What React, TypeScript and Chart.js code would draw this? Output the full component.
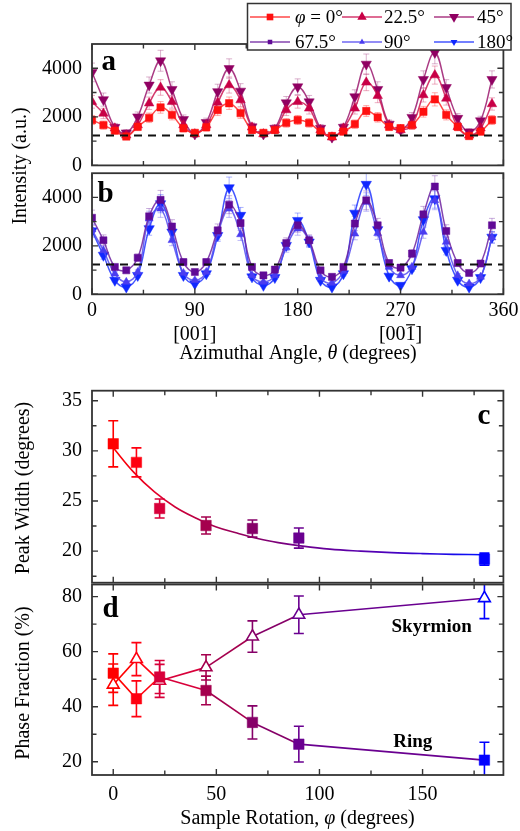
import React, { useEffect, useRef } from 'react';
import { Chart, registerables } from 'chart.js';

Chart.register(...registerables);

const SERIF = '"Liberation Serif", "Times New Roman", Times, serif';
const FRAME_COLOR = '#333333';

// ── Panels a, b: azimuthal intensity profiles for several sample rotations φ ──
const THETA = [0, 10, 20, 30, 40, 50, 60, 70, 80, 90, 100, 110, 120, 130, 140, 150, 160, 170,
  180, 190, 200, 210, 220, 230, 240, 250, 260, 270, 280, 290, 300, 310, 320, 330, 340, 350];

const INTENSITY_PHI_0 = [1870, 1660, 1430, 1190, 1590, 1960, 2390, 2080, 1530, 1340, 1570, 2280,
  2560, 2150, 1460, 1340, 1460, 1750, 1870, 1750, 1390, 1210, 1390, 1700, 2240, 1980, 1590, 1530,
  1660, 2210, 2720, 2080, 1590, 1210, 1390, 1870];
const INTENSITY_PHI_22_5 = [2620, 2140, 1530, 1240, 1660, 2560, 3210, 2620, 1660, 1290, 1660, 2590,
  3310, 2690, 1570, 1290, 1460, 2280, 2620, 2350, 1460, 1160, 1530, 2350, 3420, 2870, 1660, 1460,
  1660, 2900, 3720, 2760, 1590, 1240, 1530, 2530];
const INTENSITY_PHI_45 = [3830, 2710, 1570, 1340, 2000, 3310, 4310, 3130, 1890, 1290, 1770, 3040,
  3990, 3060, 1590, 1290, 1530, 2580, 3240, 2620, 1530, 1160, 1570, 2830, 4170, 3130, 1700, 1460,
  1980, 3540, 4650, 3210, 1940, 1380, 1840, 3540];
const INTENSITY_PHI_67_5 = [3160, 2230, 1130, 990, 1510, 3220, 3900, 2800, 1330, 920, 1330, 2640,
  3700, 2940, 1130, 780, 1020, 2120, 2850, 2230, 990, 720, 1130, 2920, 3880, 2850, 1290, 1100,
  1680, 3300, 4450, 2610, 1290, 880, 1270, 2850];
const INTENSITY_PHI_90 = [2670, 1810, 850, 510, 920, 3120, 3530, 2230, 880, 580, 920, 2500,
  3530, 2470, 780, 510, 780, 1930, 2710, 2200, 690, 470, 960, 2500, 3810, 2520, 1130, 780,
  1130, 2570, 3880, 2160, 780, 440, 720, 2340];
const INTENSITY_PHI_180 = [2620, 1610, 580, 300, 780, 2710, 3740, 2570, 780, 440, 850, 2430,
  4400, 3260, 720, 370, 690, 2020, 3050, 2160, 580, 300, 850, 3350, 4540, 2670, 750, 370,
  1060, 3080, 3950, 1810, 580, 300, 690, 2360];

// relative uncertainty of each intensity point
const INTENSITY_REL_ERROR = 0.1;
// dashed reference level drawn across panels a and b
const REFERENCE_LEVEL = 1230;

const THETA_TICKS = [0, 90, 180, 270, 360];
const THETA_MINOR = [45, 135, 225, 315];
const INTENSITY_TICKS = [0, 2000, 4000];
const INTENSITY_MINOR = [1000, 3000];
const DIRECTION_TICKS = [90, 270];
const DIRECTION_LABELS = ['[001]', '[001]'];
const DIRECTION_OVERLINED = [false, true];

// ── Panels c, d: peak width and phase fractions versus sample rotation ──
const PHI = [0, 11.25, 22.5, 45, 67.5, 90, 180];
const PEAK_WIDTH = [30.7, 28.85, 24.25, 22.55, 22.25, 21.3, 19.2];
const PEAK_WIDTH_ERR = [2.3, 1.45, 0.95, 0.85, 0.85, 1.0, 0.6];
const FIT_PHI = [0, 10, 20, 30, 40, 50, 60, 70, 80, 90, 105, 120, 135, 150, 165, 180];
const FIT_WIDTH = [30.3, 27.85, 25.9, 24.4, 23.3, 22.4, 21.8, 21.25, 20.85, 20.55, 20.2, 20.0,
  19.85, 19.75, 19.68, 19.64];
const RING_FRACTION = [52.2, 42.9, 50.8, 45.9, 34.3, 26.4, 20.6];
const RING_FRACTION_ERR = [7, 6.5, 6, 5.2, 6, 6.5, 6.5];
const SKYRMION_FRACTION = [48.0, 57.3, 49.4, 54.3, 65.5, 73.4, 79.4];
const SKYRMION_FRACTION_ERR = [7.5, 6, 6, 4.6, 5.7, 6.8, 7.4];

const PHI_TICKS = [0, 50, 100, 150];
const PHI_MINOR = [25, 75, 125, 175];
const WIDTH_TICKS = [20, 25, 30, 35];
const WIDTH_MINOR = [17.5, 22.5, 27.5, 32.5];
const FRACTION_TICKS = [20, 40, 60, 80];
const FRACTION_MINOR = [30, 50, 70];

// marker colour for each rotation in PHI (red → purple → blue)
const PHI_COLORS = ['#ff0000', '#ff0010', '#d8003a', '#a5004e', '#860068', '#6a0090', '#0000ff'];

type Part = { t: string; italic?: boolean };
type TextItem = {
  parts: Part[]; x: number; y: number; size: number; bold?: boolean;
  align?: 'left' | 'center' | 'right'; baseline?: CanvasTextBaseline; rotate?: number;
};

type Series = {
  label: Part[]; values: number[]; color: string; line: string; err: string;
  style: 'rect' | 'triangle'; rot: number; r: number; legendR: number;
};

const PANEL_A_SERIES: Series[] = [
  { label: [{ t: 'φ', italic: true }, { t: ' = 0°' }], values: INTENSITY_PHI_0, color: '#ff1010',
    line: 'rgba(255,40,40,0.85)', err: 'rgba(255,70,70,0.45)', style: 'rect', rot: 0, r: 5.2, legendR: 4.7 },
  { label: [{ t: '22.5°' }], values: INTENSITY_PHI_22_5, color: '#c80046',
    line: 'rgba(205,25,85,0.85)', err: 'rgba(210,50,100,0.4)', style: 'triangle', rot: 0, r: 5.5, legendR: 5.4 },
  { label: [{ t: '45°' }], values: INTENSITY_PHI_45, color: '#900062',
    line: 'rgba(155,25,110,0.85)', err: 'rgba(165,60,130,0.4)', style: 'triangle', rot: 180, r: 5.9, legendR: 5.8 },
];
const PANEL_B_SERIES: Series[] = [
  { label: [{ t: '67.5°' }], values: INTENSITY_PHI_67_5, color: '#600a96',
    line: 'rgba(110,35,160,0.85)', err: 'rgba(120,55,170,0.4)', style: 'rect', rot: 0, r: 5, legendR: 3.2 },
  { label: [{ t: '90°' }], values: INTENSITY_PHI_90, color: '#4a3cf0',
    line: 'rgba(85,75,240,0.85)', err: 'rgba(95,85,240,0.4)', style: 'triangle', rot: 0, r: 4.6, legendR: 3.4 },
  { label: [{ t: '180°' }], values: INTENSITY_PHI_180, color: '#1028ff',
    line: 'rgba(35,55,255,0.85)', err: 'rgba(45,65,255,0.4)', style: 'triangle', rot: 180, r: 6, legendR: 4 },
];

function fontOf(size: number, bold?: boolean, italic?: boolean) {
  return `${italic ? 'italic ' : ''}${bold ? 'bold ' : ''}${size}px ${SERIF}`;
}

function drawParts(ctx: CanvasRenderingContext2D, item: TextItem, dy: number) {
  ctx.save();
  ctx.translate(item.x, item.y - dy);
  if (item.rotate) ctx.rotate(item.rotate);
  ctx.fillStyle = '#000';
  ctx.textAlign = 'left';
  ctx.textBaseline = item.baseline ?? 'middle';
  const widths = item.parts.map((p) => {
    ctx.font = fontOf(item.size, item.bold, p.italic);
    return ctx.measureText(p.t).width;
  });
  const total = widths.reduce((a, b) => a + b, 0);
  let x = item.align === 'center' ? -total / 2 : item.align === 'right' ? -total : 0;
  item.parts.forEach((p, i) => {
    ctx.font = fontOf(item.size, item.bold, p.italic);
    ctx.fillText(p.t, x, 0);
    x += widths[i];
  });
  ctx.restore();
}

function drawMarker(ctx: CanvasRenderingContext2D, style: string, rot: number, x: number, y: number, r: number, fill: string) {
  ctx.beginPath();
  if (style === 'rect') {
    const h = r * Math.SQRT1_2;
    ctx.rect(x - h, y - h, 2 * h, 2 * h);
  } else {
    let a = (rot * Math.PI) / 180;
    ctx.moveTo(x + Math.sin(a) * r, y - Math.cos(a) * r);
    a += (2 * Math.PI) / 3;
    ctx.lineTo(x + Math.sin(a) * r, y - Math.cos(a) * r);
    a += (2 * Math.PI) / 3;
    ctx.lineTo(x + Math.sin(a) * r, y - Math.cos(a) * r);
    ctx.closePath();
  }
  ctx.fillStyle = fill;
  ctx.fill();
}

// Boxed frame with inward ticks on all four sides
function framePlugin(xMajor: number[], xMinor: number[], yMajor: number[], yMinor: number[]) {
  return {
    id: 'frame',
    afterDatasetsDraw(chart: any) {
      const { ctx, chartArea: a } = chart;
      const xs = chart.scales.x;
      const ys = chart.scales.y;
      ctx.save();
      ctx.strokeStyle = FRAME_COLOR;
      ctx.lineWidth = 1.4;
      ctx.beginPath();
      const xt = (v: number, len: number) => {
        const p = xs.getPixelForValue(v);
        ctx.moveTo(p, a.bottom); ctx.lineTo(p, a.bottom - len);
        ctx.moveTo(p, a.top); ctx.lineTo(p, a.top + len);
      };
      const yt = (v: number, len: number) => {
        const p = ys.getPixelForValue(v);
        ctx.moveTo(a.left, p); ctx.lineTo(a.left + len, p);
        ctx.moveTo(a.right, p); ctx.lineTo(a.right - len, p);
      };
      xMajor.forEach((v) => xt(v, 6));
      xMinor.forEach((v) => xt(v, 4.5));
      yMajor.forEach((v) => yt(v, 6));
      yMinor.forEach((v) => yt(v, 4.5));
      ctx.stroke();
      ctx.lineWidth = 1.8;
      ctx.strokeRect(a.left, a.top, a.right - a.left, a.bottom - a.top);
      ctx.restore();
    },
  };
}

type ErrSet = { xs: number[]; ys: number[]; errs: number[]; colors: string | string[]; width: number; cap: number };

function errorBarPlugin(sets: ErrSet[]) {
  return {
    id: 'errorBars',
    beforeDatasetsDraw(chart: any) {
      const { ctx, chartArea: a } = chart;
      const xs = chart.scales.x;
      const ys = chart.scales.y;
      ctx.save();
      ctx.beginPath();
      ctx.rect(a.left, a.top, a.right - a.left, a.bottom - a.top);
      ctx.clip();
      sets.forEach((s) => {
        ctx.lineWidth = s.width;
        s.xs.forEach((xv, i) => {
          const px = xs.getPixelForValue(xv);
          const hi = ys.getPixelForValue(s.ys[i] + s.errs[i]);
          const lo = ys.getPixelForValue(s.ys[i] - s.errs[i]);
          ctx.strokeStyle = Array.isArray(s.colors) ? s.colors[i] : s.colors;
          ctx.beginPath();
          ctx.moveTo(px, hi); ctx.lineTo(px, lo);
          ctx.moveTo(px - s.cap, hi); ctx.lineTo(px + s.cap, hi);
          ctx.moveTo(px - s.cap, lo); ctx.lineTo(px + s.cap, lo);
          ctx.stroke();
        });
      });
      ctx.restore();
    },
  };
}

function textPlugin(items: TextItem[], canvasTop: number) {
  return {
    id: 'texts',
    afterDraw(chart: any) {
      items.forEach((it) => drawParts(chart.ctx, it, canvasTop));
    },
  };
}

function legendPlugin(series: Series[]) {
  return {
    id: 'seriesLegend',
    afterDraw(chart: any) {
      const ctx: CanvasRenderingContext2D = chart.ctx;
      ctx.save();
      ctx.fillStyle = '#fff';
      ctx.fillRect(247.5, 3.5, 263.5, 46.5);
      ctx.strokeStyle = FRAME_COLOR;
      ctx.lineWidth = 1.5;
      ctx.strokeRect(247.5, 3.5, 263.5, 46.5);
      const lineX = [250, 342, 434];
      const textX = [295, 384, 477];
      const rowY = [17, 42];
      series.forEach((s, i) => {
        const c = i % 3;
        const y = rowY[Math.floor(i / 3)];
        ctx.strokeStyle = s.line;
        ctx.lineWidth = 1.5;
        ctx.beginPath();
        ctx.moveTo(lineX[c], y);
        ctx.lineTo(lineX[c] + 40, y);
        ctx.stroke();
        drawMarker(ctx, s.style, s.rot, lineX[c] + 20, y, s.legendR, s.color);
        drawParts(ctx, { parts: s.label, x: textX[c], y: y + 1, size: 19, align: 'left' }, 0);
      });
      ctx.restore();
    },
  };
}

// Axis box sizes are pinned so every panel shares the same plot edges
function fixedSize(kind: 'x' | 'y', size: number) {
  return (scale: any) => {
    if (kind === 'x') scale.height = size;
    else scale.width = size;
    scale.paddingTop = 0;
    scale.paddingBottom = 0;
    scale.paddingLeft = 0;
    scale.paddingRight = 0;
  };
}

function tickValues(values: number[]) {
  return (scale: any) => {
    scale.ticks = values.map((v) => ({ value: v }));
  };
}

const TICK_FONT = { family: SERIF, size: 20 };
const PLOT_LEFT = 92;
const PAD_RIGHT = 16.6;
const NO_GRID = { display: false, drawTicks: false };

function thetaLabel(v: number) {
  const i = DIRECTION_TICKS.indexOf(v);
  return i >= 0 ? [String(v), DIRECTION_LABELS[i]] : String(v);
}

function intensityConfig(series: Series[], canvasTop: number, height: number, areaTop: number,
  areaBottom: number, showX: boolean, extras: any[]) {
  const xHeight = showX ? height - (areaBottom - canvasTop) : 0;
  const datasets: any[] = [
    {
      data: [{ x: 0, y: REFERENCE_LEVEL }, { x: 360, y: REFERENCE_LEVEL }],
      borderColor: '#111', borderWidth: 2, borderDash: [8, 6], pointRadius: 0, tension: 0,
    },
    ...series.map((s) => ({
      data: THETA.map((t, i) => ({ x: t, y: s.values[i] })),
      borderColor: s.line, borderWidth: 1.5, tension: 0.4,
      pointStyle: s.style, pointRotation: s.rot, pointRadius: s.r,
      pointBackgroundColor: s.color, pointBorderColor: s.color, pointBorderWidth: 0.5,
    })),
  ];
  const errSets: ErrSet[] = series.map((s) => ({
    xs: THETA, ys: s.values, errs: s.values.map((v) => v * INTENSITY_REL_ERROR),
    colors: s.err, width: 1, cap: 3,
  }));
  return {
    type: 'line',
    data: { datasets },
    options: {
      responsive: false, animation: false, events: [],
      layout: {
        autoPadding: false,
        padding: { left: 0, right: PAD_RIGHT, top: areaTop - canvasTop, bottom: showX ? 0 : canvasTop + height - areaBottom },
      },
      plugins: { legend: { display: false }, tooltip: { enabled: false } },
      scales: {
        x: {
          type: 'linear', min: 0, max: 360, display: showX,
          afterBuildTicks: tickValues(THETA_TICKS), afterFit: fixedSize('x', xHeight),
          grid: NO_GRID, border: { display: false },
          ticks: { font: TICK_FONT, color: '#000', padding: 4, autoSkip: false, maxRotation: 0, callback: thetaLabel },
        },
        y: {
          type: 'linear', min: 0, max: 5000,
          afterBuildTicks: tickValues(INTENSITY_TICKS), afterFit: fixedSize('y', PLOT_LEFT),
          grid: NO_GRID, border: { display: false },
          ticks: { font: TICK_FONT, color: '#000', padding: 10, autoSkip: false, callback: (v: number) => String(v) },
        },
      },
    },
    plugins: [errorBarPlugin(errSets), framePlugin(THETA_TICKS, THETA_MINOR, INTENSITY_TICKS, INTENSITY_MINOR), ...extras],
  };
}

// bar over the final digit of the reversed-direction label
const overlinePlugin = {
  id: 'directionOverline',
  afterDraw(chart: any) {
    const ctx: CanvasRenderingContext2D = chart.ctx;
    const xs = chart.scales.x;
    ctx.save();
    ctx.font = fontOf(20);
    ctx.strokeStyle = '#000';
    ctx.lineWidth = 1.2;
    DIRECTION_TICKS.forEach((v, i) => {
      if (!DIRECTION_OVERLINED[i]) return;
      const label = DIRECTION_LABELS[i];
      const full = ctx.measureText(label).width;
      const tail = ctx.measureText(label.slice(-2)).width;
      const one = ctx.measureText(label.slice(-2, -1)).width;
      const left = xs.getPixelForValue(v) - full / 2 + (full - tail);
      const y = chart.chartArea.bottom + 4 + 36 - 9.5;
      ctx.beginPath();
      ctx.moveTo(left + 0.5, y);
      ctx.lineTo(left + one - 0.5, y);
      ctx.stroke();
    });
    ctx.restore();
  },
};

const PHI_MIN = -10.3;
const PHI_MAX = 189.2;

function phiScaleX(show: boolean, height: number) {
  return {
    type: 'linear', min: PHI_MIN, max: PHI_MAX, display: show,
    afterBuildTicks: tickValues(PHI_TICKS), afterFit: fixedSize('x', height),
    grid: NO_GRID, border: { display: false },
    ticks: { font: TICK_FONT, color: '#000', padding: 8, autoSkip: false, maxRotation: 0, callback: (v: number) => String(v) },
  };
}

function widthGradient(chart: any) {
  const { ctx, chartArea, scales } = chart;
  if (!chartArea) return PHI_COLORS[0];
  const x0 = scales.x.getPixelForValue(0);
  const x1 = scales.x.getPixelForValue(180);
  const g = ctx.createLinearGradient(x0, 0, x1, 0);
  g.addColorStop(0, '#ff0000');
  g.addColorStop(22.5 / 180, '#e0002e');
  g.addColorStop(45 / 180, '#b0004a');
  g.addColorStop(67.5 / 180, '#8a0066');
  g.addColorStop(90 / 180, '#70008c');
  g.addColorStop(130 / 180, '#5000b8');
  g.addColorStop(1, '#0010ff');
  return g;
}

function peakWidthConfig() {
  const canvasTop = 380;
  const height = 205;
  return {
    type: 'line',
    data: {
      datasets: [
        {
          data: PHI.map((p, i) => ({ x: p, y: PEAK_WIDTH[i] })),
          showLine: false, pointStyle: 'rect', pointRadius: 7.4,
          pointBackgroundColor: PHI_COLORS, pointBorderColor: PHI_COLORS, pointBorderWidth: 0.5,
        },
        {
          data: FIT_PHI.map((p, i) => ({ x: p, y: FIT_WIDTH[i] })),
          borderColor: (c: any) => widthGradient(c.chart), borderWidth: 1.6, tension: 0.4, pointRadius: 0,
        },
      ],
    },
    options: {
      responsive: false, animation: false, events: [],
      layout: { autoPadding: false, padding: { left: 0, right: PAD_RIGHT, top: 390.7 - canvasTop, bottom: canvasTop + height - 582.7 } },
      plugins: { legend: { display: false }, tooltip: { enabled: false } },
      scales: {
        x: phiScaleX(false, 0),
        y: {
          type: 'linear', min: 16.85, max: 36.0,
          afterBuildTicks: tickValues(WIDTH_TICKS), afterFit: fixedSize('y', PLOT_LEFT),
          grid: NO_GRID, border: { display: false },
          ticks: { font: TICK_FONT, color: '#000', padding: 10, autoSkip: false, callback: (v: number) => String(v) },
        },
      },
    },
    plugins: [
      errorBarPlugin([{ xs: PHI, ys: PEAK_WIDTH, errs: PEAK_WIDTH_ERR, colors: PHI_COLORS, width: 1.6, cap: 5 }]),
      framePlugin(PHI_TICKS, PHI_MINOR, WIDTH_TICKS, WIDTH_MINOR),
      textPlugin([
        { parts: [{ t: 'c' }], x: 477.5, y: 423.5, size: 29, bold: true, baseline: 'alphabetic' },
        { parts: [{ t: 'Peak Width (degrees)' }], x: 24, y: 488, size: 20, align: 'center', rotate: -Math.PI / 2 },
      ], canvasTop),
    ],
  };
}

function phaseFractionConfig() {
  const canvasTop = 580;
  const height = 251;
  const bottom = 775;
  const seg = (c: any) => PHI_COLORS[c.p0DataIndex];
  return {
    type: 'line',
    data: {
      datasets: [
        {
          data: PHI.map((p, i) => ({ x: p, y: RING_FRACTION[i] })),
          borderWidth: 1.6, tension: 0, segment: { borderColor: seg }, borderColor: PHI_COLORS[0],
          pointStyle: 'rect', pointRadius: 7.4,
          pointBackgroundColor: PHI_COLORS, pointBorderColor: PHI_COLORS, pointBorderWidth: 0.5,
        },
        {
          data: PHI.map((p, i) => ({ x: p, y: SKYRMION_FRACTION[i] })),
          borderWidth: 1.6, tension: 0, segment: { borderColor: seg }, borderColor: PHI_COLORS[0],
          pointStyle: 'triangle', pointRadius: 6.8,
          pointBackgroundColor: '#ffffff', pointBorderColor: PHI_COLORS, pointBorderWidth: 1.6,
        },
      ],
    },
    options: {
      responsive: false, animation: false, events: [],
      layout: { autoPadding: false, padding: { left: 0, right: PAD_RIGHT, top: 584.5 - canvasTop, bottom: 0 } },
      plugins: { legend: { display: false }, tooltip: { enabled: false } },
      scales: {
        x: phiScaleX(true, canvasTop + height - bottom),
        y: {
          type: 'linear', min: 15.2, max: 84.4,
          afterBuildTicks: tickValues(FRACTION_TICKS), afterFit: fixedSize('y', PLOT_LEFT),
          grid: NO_GRID, border: { display: false },
          ticks: { font: TICK_FONT, color: '#000', padding: 10, autoSkip: false, callback: (v: number) => String(v) },
        },
      },
    },
    plugins: [
      errorBarPlugin([
        { xs: PHI, ys: RING_FRACTION, errs: RING_FRACTION_ERR, colors: PHI_COLORS, width: 1.6, cap: 5 },
        { xs: PHI, ys: SKYRMION_FRACTION, errs: SKYRMION_FRACTION_ERR, colors: PHI_COLORS, width: 1.6, cap: 5 },
      ]),
      framePlugin(PHI_TICKS, PHI_MINOR, FRACTION_TICKS, FRACTION_MINOR),
      textPlugin([
        { parts: [{ t: 'd' }], x: 102.5, y: 617, size: 29, bold: true, baseline: 'alphabetic' },
        { parts: [{ t: 'Skyrmion' }], x: 391.5, y: 631.5, size: 19, bold: true, baseline: 'alphabetic' },
        { parts: [{ t: 'Ring' }], x: 393.3, y: 746.5, size: 19, bold: true, baseline: 'alphabetic' },
        { parts: [{ t: 'Phase Fraction (%)' }], x: 24, y: 683, size: 20, align: 'center', rotate: -Math.PI / 2 },
        { parts: [{ t: 'Sample Rotation, ' }, { t: 'φ', italic: true }, { t: ' (degrees)' }], x: 297.5, y: 818.5, size: 20, align: 'center' },
      ], canvasTop),
    ],
  };
}

function ChartCanvas({ top, height, make }: { top: number; height: number; make: () => any }) {
  const ref = useRef<HTMLCanvasElement | null>(null);
  useEffect(() => {
    const chart = new Chart(ref.current as HTMLCanvasElement, make());
    return () => chart.destroy();
  }, [make]);
  return (
    <canvas
      ref={ref}
      width={520}
      height={height}
      style={{ position: 'absolute', left: 0, top, width: 520, height }}
    />
  );
}

const makePanelA = () =>
  intensityConfig(PANEL_A_SERIES, 0, 300, 44, 165.4, false, [
    textPlugin([
      { parts: [{ t: 'a' }], x: 101.5, y: 69.5, size: 29, bold: true, baseline: 'alphabetic' },
      { parts: [{ t: 'Intensity (a.u.)' }], x: 21, y: 166, size: 20, align: 'center', rotate: -Math.PI / 2 },
    ], 0),
    legendPlugin([...PANEL_A_SERIES, ...PANEL_B_SERIES]),
  ]);

const makePanelB = () =>
  intensityConfig(PANEL_B_SERIES, 170, 200, 173.2, 294.3, true, [
    overlinePlugin,
    textPlugin([
      { parts: [{ t: 'b' }], x: 97.5, y: 201.5, size: 29, bold: true, baseline: 'alphabetic' },
      { parts: [{ t: 'Azimuthal Angle, ' }, { t: 'θ', italic: true }, { t: ' (degrees)' }], x: 298, y: 353.5, size: 20, align: 'center' },
    ], 170),
  ]);

export default function App() {
  return (
    <div style={{ position: 'absolute', left: 0, top: 0, width: 520, height: 831, background: '#fff', overflow: 'hidden' }}>
      <ChartCanvas top={0} height={300} make={makePanelA} />
      <ChartCanvas top={170} height={200} make={makePanelB} />
      <ChartCanvas top={380} height={205} make={peakWidthConfig} />
      <ChartCanvas top={580} height={251} make={phaseFractionConfig} />
    </div>
  );
}
